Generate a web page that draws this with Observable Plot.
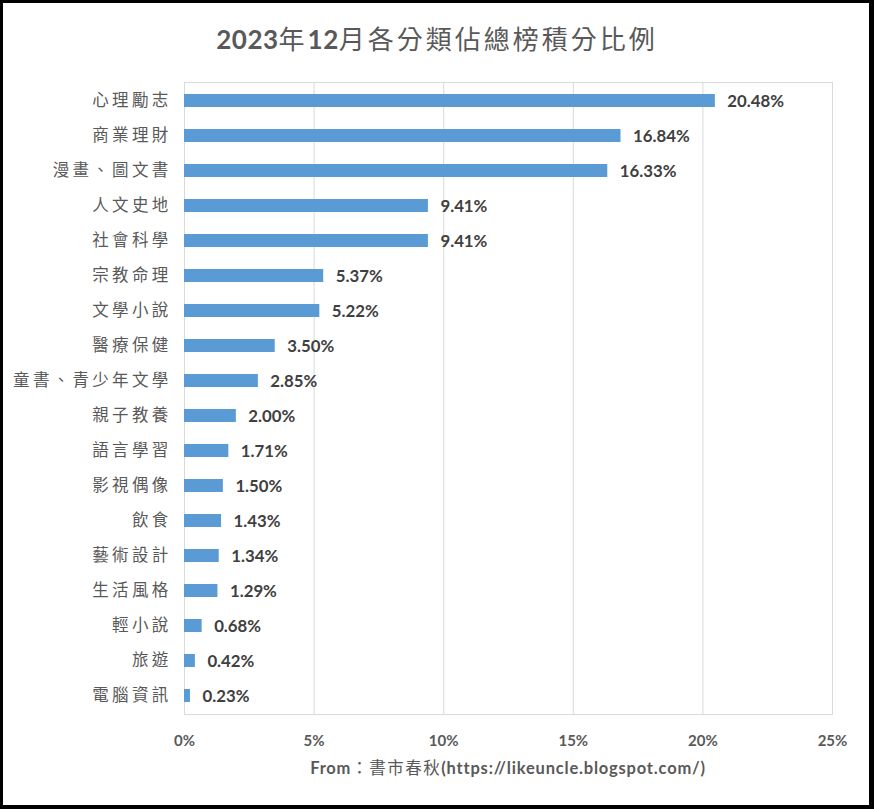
<!DOCTYPE html>
<html>
<head>
<meta charset="utf-8">
<script src="https://cdn.jsdelivr.net/npm/d3@7"></script>
<script src="https://cdn.jsdelivr.net/npm/@observablehq/plot@0.6"></script>
<style>
  html, body { margin: 0; padding: 0; background: #fff; }
  #wrap { position: relative; width: 874px; height: 809px; overflow: hidden; background: #fff; }
  #frame { position: absolute; left: 0; top: 0; width: 874px; height: 809px; box-sizing: border-box;
           border-style: solid; border-color: #000; border-width: 3px 5px 4px 3px; pointer-events: none; }
  #title { position: absolute; left: 0; width: 874px; top: 20px; text-align: center;
           font: 26px "Lato", "Noto Sans CJK TC", sans-serif; color: #595959; letter-spacing: 3px; line-height: 38px; }
  #title b { font-weight: 700; letter-spacing: 0.5px; }
  #caption { position: absolute; left: 184px; width: 648px; top: 756px; text-align: center;
             font: 700 16.5px "Lato", "Noto Sans CJK TC", sans-serif; color: #595959; line-height: 24px; letter-spacing: 0.8px; }
  #caption span { font-weight: 400; letter-spacing: 1.5px; }
  #plot { position: absolute; left: 0; top: 0; }
  .yax text { letter-spacing: 3.3px; }
</style>
</head>
<body>
<div id="wrap">
  <div id="plot"></div>
  <div id="title"><b>2023</b>年<b>12</b>月各分類佔總榜積分比例</div>
  <div id="caption">From<span>：書市春秋</span>(https://likeuncle.blogspot.com/)</div>
  <div id="frame"></div>
</div>
<script>
const categories = ["心理勵志","商業理財","漫畫、圖文書","人文史地","社會科學","宗教命理","文學小說","醫療保健","童書、青少年文學","親子教養","語言學習","影視偶像","飲食","藝術設計","生活風格","輕小說","旅遊","電腦資訊"];
const values = [20.48, 16.84, 16.33, 9.41, 9.41, 5.37, 5.22, 3.50, 2.85, 2.00, 1.71, 1.50, 1.43, 1.34, 1.29, 0.68, 0.42, 0.23];
const tickValues = [0, 5, 10, 15, 20, 25];
const tickLabels = ["0%", "5%", "10%", "15%", "20%", "25%"];

const data = categories.map((c, i) => ({category: c, value: values[i]}));

const chart = Plot.plot({
  width: 874,
  height: 809,
  marginLeft: 184,
  marginRight: 42,
  marginTop: 82,
  marginBottom: 95,
  style: {background: "transparent", overflow: "visible"},
  x: {domain: [0, 25], ticks: tickValues},
  y: {domain: categories, paddingInner: 0.63, paddingOuter: 0.315, align: 0.5},
  marks: [
    Plot.gridX(tickValues, {stroke: "#d9d9d9", strokeOpacity: 1}),
    Plot.frame({stroke: "#d9d9d9", strokeOpacity: 1}),
    Plot.barX(data, {x: "value", y: "category", fill: "#5b9bd5"}),
    Plot.text(data, {x: "value", y: "category", text: d => d.value.toFixed(2) + "%",
      textAnchor: "start", dx: 12, dy: 1, fill: "#404040", fontSize: 16.8, fontWeight: 700,
      fontFamily: "Lato, 'Noto Sans CJK TC', sans-serif"}),
    Plot.axisX(tickValues, {tickSize: 0, tickPadding: 21, tickFormat: (d) => tickLabels[tickValues.indexOf(d)],
      fontSize: 15, fontWeight: 700, fill: "#595959", fontFamily: "Lato, sans-serif", label: null}),
    Plot.axisY({tickSize: 0, tickPadding: 13, fontSize: 16.5, fill: "#595959", className: "yax",
      fontFamily: "'Noto Sans CJK TC', sans-serif", label: null})
  ]
});
document.getElementById("plot").appendChild(chart);
</script>
</body>
</html>
